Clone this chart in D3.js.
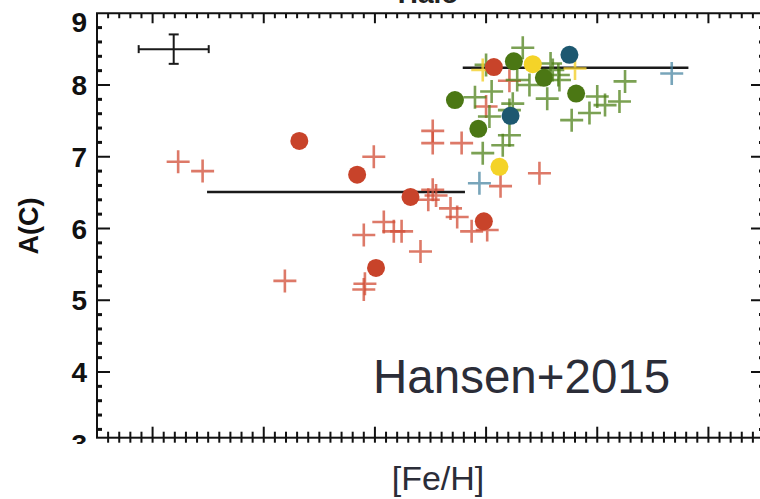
<!DOCTYPE html>
<html>
<head>
<meta charset="utf-8">
<script src="https://cdn.jsdelivr.net/npm/d3@7"></script>
<style>
  body { margin: 0; background: #fff; }
  svg { display: block; font-family: "Liberation Sans", Arial, sans-serif; }
</style>
</head>
<body>
<script>
var redDots    = [[-4.68,7.22],[-4.16,6.75],[-3.68,6.44],[-3.99,5.45],[-3.02,6.10],[-2.93,8.25]];
var greenDots  = [[-3.28,7.79],[-3.07,7.39],[-2.75,8.33],[-2.48,8.10],[-2.19,7.88]];
var yellowDots = [[-2.58,8.29],[-2.88,6.86]];
var tealDots   = [[-2.25,8.42],[-2.78,7.57]];

var redCrosses = [[-5.77,6.93],[-5.55,6.80],[-4.81,5.27],[-4.10,5.91],[-4.09,5.23],[-4.10,5.15],
  [-4.01,7.00],[-3.92,6.09],[-3.83,5.96],[-3.76,5.96],[-3.59,5.68],[-3.52,6.40],[-3.48,6.54],
  [-3.45,6.46],[-3.32,6.28],[-3.26,6.16],[-3.13,5.96],[-2.99,5.98],[-3.48,7.36],[-3.48,7.19],
  [-3.22,7.19],[-3.00,7.70],[-2.87,6.59],[-2.52,6.77],[-2.79,8.06]];
var greenCrosses = [[-2.67,8.52],[-3.00,8.28],[-2.72,8.07],[-2.61,8.00],[-2.40,8.21],[-2.42,8.30],
  [-2.35,8.14],[-2.34,8.07],[-2.45,7.81],[-3.10,7.83],[-2.95,7.91],[-2.76,7.74],[-2.79,7.65],
  [-2.97,7.56],[-2.79,7.30],[-2.85,7.16],[-3.03,7.05],[-1.75,8.05],[-2.00,7.84],[-1.93,7.72],
  [-1.80,7.77],[-2.07,7.61],[-2.23,7.51]];
var yellowCrosses = [[-3.03,8.21],[-2.20,8.23]];
var tealCrosses   = [[-3.06,6.63],[-1.33,8.16]];

// the two carbon bands: [Fe/H] extent and A(C) level
var bandFe = [[-5.51,-3.19],[-3.21,-1.18]];
var bandAC = [6.51, 8.24];

// typical error bar
var errPoint = [-5.81, 8.50];
var errSize  = [0.315, 0.205];

var yTickLabels = [3, 4, 5, 6, 7, 8, 9];
var xMajor = [-6, -5, -4, -3, -2, -1];

var width = 760, height = 499;
var pL = 97, pR = 764, pT = 13.25, pB = 437.7;

var x = d3.scaleLinear().domain([-6.5, -0.5]).range([pL, pR]);
var y = d3.scaleLinear().domain([3, 9]).range([443.75, pT]);
var yMin = y.invert(pB);

var svg = d3.select("body").append("svg")
    .attr("width", width)
    .attr("height", height);

var defs = svg.append("defs");
defs.append("clipPath").attr("id", "labclip")
  .append("rect").attr("x", 0).attr("y", 0).attr("width", pL).attr("height", 444);
defs.append("filter").attr("id", "soft")
  .append("feGaussianBlur").attr("stdDeviation", 0.6);

// cut off panel title above the frame
svg.append("text")
    .attr("x", 428).attr("y", 3)
    .attr("text-anchor", "middle")
    .style("font-size", "28px").style("font-weight", "bold").style("fill", "#222")
    .text("Halo");

// frame
svg.append("rect")
    .attr("x", pL).attr("y", pT)
    .attr("width", pR - pL).attr("height", pB - pT)
    .style("fill", "none").style("stroke", "#111").style("stroke-width", 2);

// y ticks (left + right), minor every 0.2
var yMinors = d3.range(3.2, 9.0, 0.2).filter(function (v) {
  return v > yMin && Math.abs(v - Math.round(v)) > 0.05;
});
var yMajors = yTickLabels.filter(function (v) { return v > yMin && v < 9; });
[[pL, 1], [pR, -1]].forEach(function (s) {
  svg.selectAll(null).data(yMajors).enter().append("line")
      .attr("x1", s[0]).attr("x2", s[0] + s[1] * 13)
      .attr("y1", function (d) { return y(d); }).attr("y2", function (d) { return y(d); })
      .style("stroke", "#111").style("stroke-width", 2);
  svg.selectAll(null).data(yMinors).enter().append("line")
      .attr("x1", s[0]).attr("x2", s[0] + s[1] * 5)
      .attr("y1", function (d) { return y(d); }).attr("y2", function (d) { return y(d); })
      .style("stroke", "#111").style("stroke-width", 3);
});

// x ticks, minor every 0.1
var xMinors = d3.range(-6.4, -0.5, 0.1).filter(function (v) {
  return Math.abs(v - Math.round(v)) > 0.05;
});
// bottom ticks cross the axis line
svg.selectAll(null).data(xMajor).enter().append("line")
    .attr("x1", function (d) { return x(d); }).attr("x2", function (d) { return x(d); })
    .attr("y1", pB - 11).attr("y2", pB + 5)
    .style("stroke", "#111").style("stroke-width", 2);
svg.selectAll(null).data(xMinors).enter().append("line")
    .attr("x1", function (d) { return x(d); }).attr("x2", function (d) { return x(d); })
    .attr("y1", pB - 6).attr("y2", pB + 5)
    .style("stroke", "#111").style("stroke-width", 2);
// top ticks point down
svg.selectAll(null).data(xMajor).enter().append("line")
    .attr("x1", function (d) { return x(d); }).attr("x2", function (d) { return x(d); })
    .attr("y1", pT).attr("y2", pT + 10)
    .style("stroke", "#111").style("stroke-width", 2);
svg.selectAll(null).data(xMinors).enter().append("line")
    .attr("x1", function (d) { return x(d); }).attr("x2", function (d) { return x(d); })
    .attr("y1", pT).attr("y2", pT + 5)
    .style("stroke", "#111").style("stroke-width", 2);

// y tick labels
svg.append("g").attr("clip-path", "url(#labclip)")
  .selectAll("text").data(yTickLabels).enter().append("text")
    .attr("x", 87)
    .attr("y", function (d) { return d === 9 ? y(d) + 9 : y(d); })
    .attr("dy", "0.36em")
    .attr("text-anchor", "end")
    .style("font-size", "28px").style("font-weight", "bold").style("fill", "#111")
    .text(function (d) { return d; });

// axis titles
svg.append("text")
    .attr("transform", "translate(38,226) rotate(-90)")
    .attr("text-anchor", "middle")
    .style("font-size", "27px").style("font-weight", "bold").style("fill", "#111")
    .text("A(C)");

svg.append("text")
    .attr("x", 438).attr("y", 490)
    .attr("text-anchor", "middle")
    .style("font-size", "34px").style("fill", "#2b2d38")
    .text("[Fe/H]");

svg.append("text")
    .attr("x", 373).attr("y", 393)
    .style("font-size", "47.5px").style("fill", "#2b2d38")
    .text("Hansen+2015");

// carbon bands
svg.selectAll(null).data(bandFe).enter().append("line")
    .attr("x1", function (d) { return x(d[0]); })
    .attr("x2", function (d) { return x(d[1]); })
    .attr("y1", function (d, i) { return y(bandAC[i]); })
    .attr("y2", function (d, i) { return y(bandAC[i]); })
    .style("stroke", "#1a1a1a").style("stroke-width", 2.5);

// error bar
var eb = svg.append("g").style("stroke", "#1a1a1a").style("stroke-width", 2);
var ex0 = x(errPoint[0] - errSize[0]), ex1 = x(errPoint[0] + errSize[0]);
var ey0 = y(errPoint[1] - errSize[1]), ey1 = y(errPoint[1] + errSize[1]);
var ecx = x(errPoint[0]), ecy = y(errPoint[1]);
eb.append("line").attr("x1", ex0).attr("x2", ex1).attr("y1", ecy).attr("y2", ecy);
eb.append("line").attr("x1", ecx).attr("x2", ecx).attr("y1", ey0).attr("y2", ey1);
eb.append("line").attr("x1", ex0).attr("x2", ex0).attr("y1", ecy - 4).attr("y2", ecy + 4);
eb.append("line").attr("x1", ex1).attr("x2", ex1).attr("y1", ecy - 4).attr("y2", ecy + 4);
eb.append("line").attr("x1", ecx - 5).attr("x2", ecx + 5).attr("y1", ey0).attr("y2", ey0);
eb.append("line").attr("x1", ecx - 5).attr("x2", ecx + 5).attr("y1", ey1).attr("y2", ey1);

// crosses
function crosses(pts, color, op) {
  svg.append("g").attr("filter", "url(#soft)")
    .selectAll("path").data(pts).enter().append("path")
      .attr("d", function (d) {
        var cx = x(d[0]), cy = y(d[1]), s = 11.5;
        return "M" + (cx - s) + "," + cy + "H" + (cx + s) + "M" + cx + "," + (cy - s) + "V" + (cy + s);
      })
      .style("stroke", color).style("stroke-width", 2.6)
      .style("stroke-opacity", op).style("fill", "none");
}
crosses(redCrosses, "#d24d35", 0.75);
crosses(greenCrosses, "#4f8119", 0.75);
crosses(yellowCrosses, "#f2cf2c", 0.8);
crosses(tealCrosses, "#3f7f9c", 0.7);

// filled circles on top
function dots(pts, color) {
  svg.append("g").selectAll("circle").data(pts).enter().append("circle")
      .attr("cx", function (d) { return x(d[0]); })
      .attr("cy", function (d) { return y(d[1]); })
      .attr("r", 9)
      .style("fill", color);
}
dots(redDots, "#c8432a");
dots(greenDots, "#4b7714");
dots(yellowDots, "#f4d328");
dots(tealDots, "#1d5870");
</script>
</body>
</html>
